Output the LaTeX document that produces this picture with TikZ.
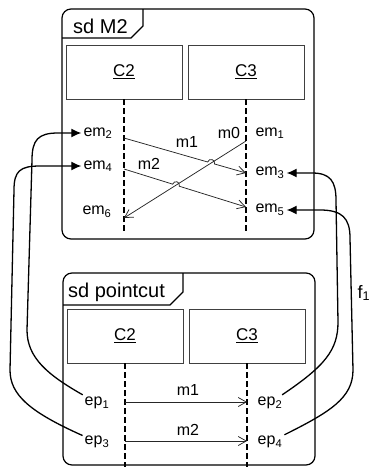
\documentclass[tikz,border=0pt]{standalone}
\usepackage{fontspec}
\setmainfont{Liberation Sans}
\usetikzlibrary{arrows.meta,calc}
\tikzset{
  frame/.style={draw=black,line width=1.2pt},
  classbox/.style={draw=black!75,line width=0.8pt,minimum width=116pt,minimum height=54pt,inner sep=0pt,font=\fontsize{17}{20}\selectfont},
  lifeline/.style={line width=1.7pt,dash pattern=on 6pt off 3pt},
  msg/.style={draw=black!85,line width=0.75pt,-{Straight Barb[length=8pt,width=9pt]}},
  lbl/.style={inner sep=2pt,font=\fontsize{16}{19}\selectfont},
  link/.style={draw=black,line width=1.3pt,-{Latex[length=10pt,width=9pt]}},
}
\begin{document}
\begin{tikzpicture}[x=1pt,y=-1pt]
\useasboundingbox (0,0) rectangle (374,467);
% ---------- top frame ----------
\draw[frame,rounded corners=9pt] (62,9) rectangle (314,239);
\draw[frame] (62,38) -- (131,38) -- (143,26) -- (143,9);
\node[anchor=base west,inner sep=0pt,font=\fontsize{20}{23}\selectfont] (sdm2) at (73,33) {sd M2};
\node[classbox] (c2a) at (124,72) {\underline{C2}};
\node[classbox] (c3a) at (246,72) {\underline{C3}};
\draw[lifeline] (c2a.south) -- (124,233);
\draw[lifeline] (c3a.south) -- (246,233);
\coordinate (m1s) at (124,138);
\coordinate (m1e) at (246,173);
\coordinate (m2s) at (124,169);
\coordinate (m2e) at (246,207);
\coordinate (m0s) at (246,141);
\coordinate (m0e) at (124,218);
\coordinate (h1a) at ($(m1s)!0.686!(m1e)$);
\coordinate (h1b) at ($(m1s)!0.742!(m1e)$);
\coordinate (h2a) at ($(m2s)!0.399!(m2e)$);
\coordinate (h2b) at ($(m2s)!0.453!(m2e)$);
\draw[msg] (m1s) -- (h1a) .. controls ($(h1a)!4.7pt!90:(h1b)$) and ($(h1b)!4.7pt!-90:(h1a)$) .. (h1b) -- (m1e);
\draw[msg] (m2s) -- (h2a) .. controls ($(h2a)!4.7pt!90:(h2b)$) and ($(h2b)!4.7pt!-90:(h2a)$) .. (h2b) -- (m2e);
\draw[msg] (m0s) -- (m0e);
\node[lbl] (lm1a) at (187,142) {m1};
\node[lbl] (lm2a) at (149,164) {m2};
\node[lbl] (lm0a) at (229,133) {m0};
\node[lbl] (em2) at (98,133) {em\textsubscript{2}};
\node[lbl] (em4) at (98,166) {em\textsubscript{4}};
\node[lbl] (em6) at (97,212) {em\textsubscript{6}};
\node[lbl] (em1) at (270,133) {em\textsubscript{1}};
\node[lbl] (em3) at (270,173) {em\textsubscript{3}};
\node[lbl] (em5) at (270,210) {em\textsubscript{5}};
% ---------- bottom frame ----------
\draw[frame,rounded corners=9pt] (63,273) rectangle (315,465);
\draw[frame] (63,305) -- (170,305) -- (183,292) -- (183,273);
\node[anchor=base west,inner sep=0pt,font=\fontsize{20}{23}\selectfont] (sdpc) at (68,297) {sd pointcut};
\node[classbox] (c2b) at (125,336) {\underline{C2}};
\node[classbox] (c3b) at (247,336) {\underline{C3}};
\draw[lifeline] (c2b.south) -- (125,467);
\draw[lifeline] (c3b.south) -- (247,467);
\coordinate (p1s) at (125,402);
\coordinate (p1e) at (247,402);
\coordinate (p2s) at (125,441);
\coordinate (p2e) at (247,441);
\draw[msg] (p1s) -- (p1e);
\draw[msg] (p2s) -- (p2e);
\node[lbl] (lm1b) at (188,390) {m1};
\node[lbl] (lm2b) at (188,430) {m2};
\node[lbl] (ep1) at (97,403) {ep\textsubscript{1}};
\node[lbl] (ep3) at (97,442) {ep\textsubscript{3}};
\node[lbl] (ep2) at (270,403) {ep\textsubscript{2}};
\node[lbl] (ep4) at (270,442) {ep\textsubscript{4}};
% ---------- mapping f1 ----------
\draw[link] (ep1) .. controls (48,375) and (27,358) .. (27,330) -- (32,160) .. controls (32,140) and (38,133) .. (58,133) -- (em2);
\draw[link] (ep3) .. controls (30,412) and (10,395) .. (10,370) -- (14,190) .. controls (14,171) and (20,166) .. (40,166) -- (em4);
\draw[link] (ep2) .. controls (325,366) and (338,350) .. (338,322) -- (336,200) .. controls (336,181) and (330,173) .. (312,173) -- (em3);
\draw[link] (ep4) .. controls (330,412) and (353,398) .. (353,370) -- (350,238) .. controls (350,218) and (342,210) .. (320,210) -- (em5);
\node[font=\fontsize{18}{21}\selectfont,inner sep=1pt] (f1) at (364,293) {f\textsubscript{1}};
\end{tikzpicture}
\end{document}
